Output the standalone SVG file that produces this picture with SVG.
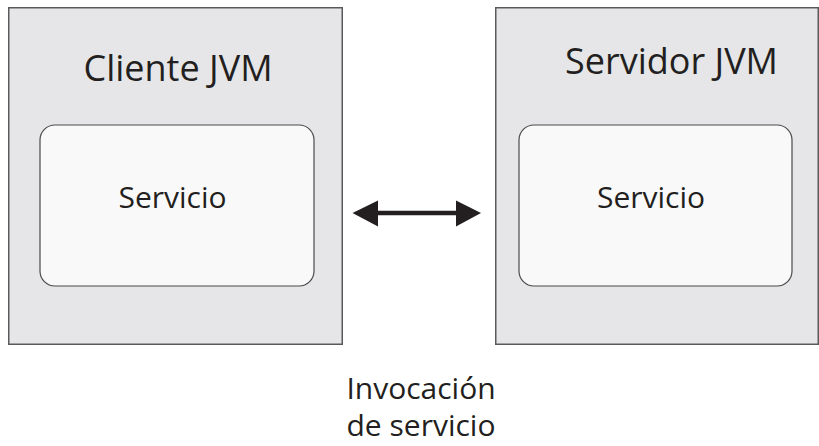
<svg xmlns="http://www.w3.org/2000/svg" width="819" height="446" viewBox="0 0 819 446">
<defs>
<style>
.outer{fill:#e6e6e8;stroke:#5a5a5a;stroke-width:1.5}
.inner{fill:#f9f9f9;stroke:#4a4a4a;stroke-width:1.2}
text{font-family:"Open Sans","Noto Sans","Liberation Sans",sans-serif;fill:#231f20;text-anchor:middle}
.title{font-size:36px}
.lbl{font-size:30px}
</style>
</defs>
<rect width="819" height="446" fill="#ffffff"/>
<g id="cliente">
<rect class="outer" x="8.75" y="7.75" width="333.5" height="336.5"/>
<text class="title" x="178" y="81">Cliente JVM</text>
</g>
<g id="servicio-cliente">
<rect class="inner" x="40" y="125" width="274" height="161" rx="15" ry="15"/>
<text class="lbl" x="172.5" y="207.5">Servicio</text>
</g>
<g id="servidor">
<rect class="outer" x="495.75" y="7.75" width="322.5" height="336.5"/>
<text class="title" x="671.5" y="74">Servidor JVM</text>
</g>
<g id="servicio-servidor">
<rect class="inner" x="519" y="125" width="273" height="161" rx="15" ry="15"/>
<text class="lbl" x="651" y="207.5">Servicio</text>
</g>
<g id="connectors">
<line x1="377" y1="213" x2="457" y2="213" stroke="#231f20" stroke-width="4.5"/>
<path d="M352.5,213 L378,200.5 L378,226.5 z" fill="#231f20"/>
<path d="M481,213 L456,200.5 L456,226.5 z" fill="#231f20"/>
</g>
<g id="label-invocacion">
<text class="lbl" x="421" y="399">Invocación</text>
<text class="lbl" x="421" y="436">de servicio</text>
</g>
</svg>
